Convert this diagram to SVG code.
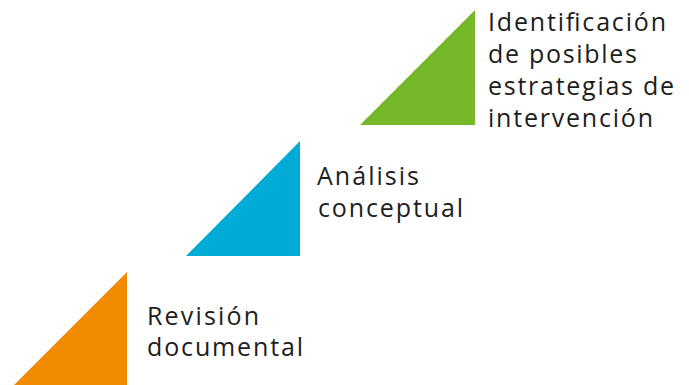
<svg xmlns="http://www.w3.org/2000/svg" width="689" height="385" viewBox="0 0 689 385">
<style>
text{font-family:"Open Sans","Liberation Sans",sans-serif;font-size:25px;fill:#1d1d1b}
</style>
<rect width="689" height="385" fill="#ffffff"/>
<g id="node-identificacion">
<polygon points="475,10 475,125 360,125" fill="#76b82a"/>
<text x="488" y="31" textLength="178" lengthAdjust="spacing">Identificación</text>
<text x="488" y="63" textLength="149" lengthAdjust="spacing">de posibles</text>
<text x="488" y="95" textLength="186" lengthAdjust="spacing">estrategias de</text>
<text x="488" y="127" textLength="165" lengthAdjust="spacing">intervención</text>
</g>
<g id="node-analisis">
<polygon points="300,141 300,256 186,256" fill="#00acd6"/>
<text x="317" y="185" textLength="102" lengthAdjust="spacing">Análisis</text>
<text x="318" y="217" textLength="145" lengthAdjust="spacing">conceptual</text>
</g>
<g id="node-revision">
<polygon points="127,272 127,387 12,387" fill="#f08b00"/>
<text x="147" y="325" textLength="112" lengthAdjust="spacing">Revisión</text>
<text x="147" y="356" textLength="156" lengthAdjust="spacing">documental</text>
</g>
<g id="connectors"></g>
</svg>
